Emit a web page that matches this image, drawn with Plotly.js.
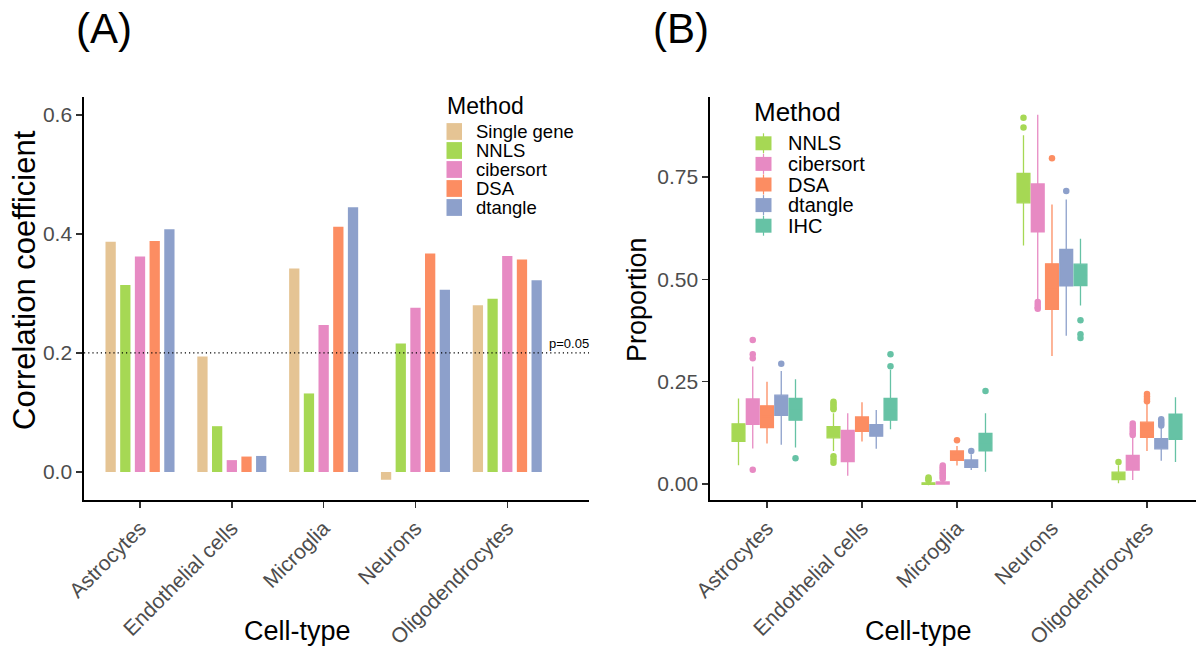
<!DOCTYPE html>
<html><head><meta charset="utf-8">
<script src="https://cdn.plot.ly/plotly-3.0.1.min.js"></script>
<style>html,body{margin:0;padding:0;background:#fff}#chart{width:1196px;height:649px}</style>
</head><body><div id="chart"></div>
<script>
// ---------- shared ----------
const cellTypes = ['Astrocytes', 'Endothelial cells', 'Microglia', 'Neurons', 'Oligodendrocytes'];

// ---------- panel A: correlation coefficients ----------
const methodsA = ['Single gene', 'NNLS', 'cibersort', 'DSA', 'dtangle'];
const colorsA = ['#E5C494', '#A6D854', '#E78AC3', '#FC8D62', '#8DA0CB'];
const corSingleGene = [0.387, 0.194, 0.342, -0.013, 0.280];
const corNNLS       = [0.314, 0.077, 0.132, 0.216, 0.291];
const corCibersort  = [0.362, 0.020, 0.247, 0.276, 0.363];
const corDSA        = [0.388, 0.026, 0.412, 0.367, 0.357];
const corDtangle    = [0.408, 0.027, 0.445, 0.306, 0.322];
const pThreshold = 0.2;
const yTicksA = [0, 0.2, 0.4, 0.6];
const yTickTextA = ['0.0', '0.2', '0.4', '0.6'];

// ---------- panel B: proportions (box statistics) ----------
const methodsB = ['NNLS', 'cibersort', 'DSA', 'dtangle', 'IHC'];
const colorsB = ['#A6D854', '#E78AC3', '#FC8D62', '#8DA0CB', '#66C2A5'];

const nnlsLower  = [0.046, 0.081, -0.003, 0.583, 0.002];
const nnlsQ1     = [0.104, 0.113, -0.001, 0.687, 0.011];
const nnlsMedian = [0.125, 0.127, 0.001, 0.722, 0.019];
const nnlsQ3     = [0.147, 0.140, 0.003, 0.759, 0.029];
const nnlsUpper  = [0.209, 0.173, 0.005, 0.852, 0.046];
const nnlsOut    = [[], [0.201, 0.196, 0.191, 0.186, 0.183, 0.068, 0.060, 0.052], [0.009, 0.012, 0.016], [0.895, 0.871], [0.054]];

const cibLower  = [0.087, 0.020, 0.000, 0.450, 0.010];
const cibQ1     = [0.146, 0.055, 0.000, 0.616, 0.034];
const cibMedian = [0.175, 0.095, 0.002, 0.670, 0.050];
const cibQ3     = [0.208, 0.131, 0.005, 0.733, 0.070];
const cibUpper  = [0.287, 0.173, 0.009, 0.902, 0.116];
const cibOut    = [[0.352, 0.317, 0.307, 0.035], [], [0.013, 0.017, 0.021, 0.025, 0.029, 0.033, 0.037, 0.041, 0.045], [0.445, 0.438, 0.432, 0.428], [0.148, 0.142, 0.136, 0.130, 0.124, 0.120]];

const dsaLower  = [0.099, 0.104, 0.045, 0.313, 0.081];
const dsaQ1     = [0.138, 0.129, 0.058, 0.427, 0.114];
const dsaMedian = [0.165, 0.147, 0.070, 0.480, 0.133];
const dsaQ3     = [0.191, 0.164, 0.081, 0.538, 0.151];
const dsaUpper  = [0.250, 0.200, 0.093, 0.683, 0.197];
const dsaOut    = [[], [], [0.107], [0.796], [0.220, 0.214, 0.208, 0.202]];

const dtLower  = [0.096, 0.086, 0.034, 0.362, 0.057];
const dtQ1     = [0.168, 0.117, 0.041, 0.484, 0.086];
const dtMedian = [0.190, 0.130, 0.050, 0.530, 0.098];
const dtQ3     = [0.217, 0.145, 0.059, 0.573, 0.111];
const dtUpper  = [0.276, 0.181, 0.073, 0.695, 0.139];
const dtOut    = [[0.294], [], [0.081], [0.716], [0.158, 0.153, 0.148, 0.143]];

const ihcLower  = [0.089, 0.134, 0.030, 0.436, 0.054];
const ihcQ1     = [0.156, 0.156, 0.081, 0.485, 0.109];
const ihcMedian = [0.180, 0.180, 0.100, 0.510, 0.140];
const ihcQ3     = [0.209, 0.209, 0.124, 0.537, 0.171];
const ihcUpper  = [0.256, 0.279, 0.173, 0.599, 0.212];
const ihcOut    = [[0.063], [0.317, 0.288], [0.227], [0.400, 0.366, 0.357], []];

const yTicksB = [0, 0.25, 0.5, 0.75];
const yTickTextB = ['0.00', '0.25', '0.50', '0.75'];

// ---------- build ----------
const W = 1196, H = 649;
const px = v => v / W;
const py = v => 1 - v / H;
const FONT = 'Liberation Sans, Arial, sans-serif';
const TICKGREY = '#4D4D4D';

const corValues = [corSingleGene, corNNLS, corCibersort, corDSA, corDtangle];
const boxStats = [
  [nnlsLower, nnlsQ1, nnlsMedian, nnlsQ3, nnlsUpper, nnlsOut],
  [cibLower, cibQ1, cibMedian, cibQ3, cibUpper, cibOut],
  [dsaLower, dsaQ1, dsaMedian, dsaQ3, dsaUpper, dsaOut],
  [dtLower, dtQ1, dtMedian, dtQ3, dtUpper, dtOut],
  [ihcLower, ihcQ1, ihcMedian, ihcQ3, ihcUpper, ihcOut]
];

const traces = [];
methodsA.forEach((m, k) => {
  traces.push({
    type: 'bar', name: m, x: cellTypes, y: corValues[k],
    marker: { color: colorsA[k], line: { width: 0 } },
    xaxis: 'x', yaxis: 'y', showlegend: false
  });
});

const dodge = 0.15;
methodsB.forEach((m, k) => {
  const s = boxStats[k];
  const xs = cellTypes.map((c, i) => i + (k - 2) * dodge);
  traces.push({
    type: 'box', name: m, x: xs,
    lowerfence: s[0], q1: s[1], median: s[2], q3: s[3], upperfence: s[4],
    width: 0.135, whiskerwidth: 0, boxpoints: false,
    fillcolor: colorsB[k], line: { color: colorsB[k], width: 1.3 },
    xaxis: 'x2', yaxis: 'y2', showlegend: false
  });
  const ox = [], oy = [];
  s[5].forEach((arr, i) => arr.forEach(v => { ox.push(xs[i]); oy.push(v); }));
  traces.push({
    type: 'scatter', mode: 'markers', name: m + ' outliers', x: ox, y: oy,
    marker: { color: colorsB[k], size: 6.5, line: { width: 0 } },
    xaxis: 'x2', yaxis: 'y2', showlegend: false, hoverinfo: 'y'
  });
});

const yDom = [py(500), py(97)];
const axisCommon = {
  showline: true, linecolor: '#000', linewidth: 1.7, mirror: false,
  showgrid: false, zeroline: false, ticks: 'outside', ticklen: 6,
  tickwidth: 1.4, tickcolor: '#333',
  tickfont: { family: FONT, size: 21, color: TICKGREY }
};

const shapes = [
  { type: 'line', xref: 'x domain', yref: 'y', x0: 0, x1: 1, y0: pThreshold, y1: pThreshold,
    line: { color: '#000', width: 1.2, dash: '1.2px,3px' } }
];
const annotations = [
  { text: '(A)', xref: 'paper', yref: 'paper', x: px(74), y: py(28), xanchor: 'left', yanchor: 'middle',
    showarrow: false, font: { family: FONT, size: 42, color: '#000' } },
  { text: '(B)', xref: 'paper', yref: 'paper', x: px(651), y: py(28), xanchor: 'left', yanchor: 'middle',
    showarrow: false, font: { family: FONT, size: 42, color: '#000' } },
  { text: 'p=0.05', xref: 'x', yref: 'y', x: 4.67, y: pThreshold, yshift: 9, xanchor: 'center', yanchor: 'middle',
    showarrow: false, font: { family: FONT, size: 13, color: '#000' } },
  { text: 'Correlation coefficient', xref: 'paper', yref: 'paper', x: px(25), y: py(280), textangle: -90,
    xanchor: 'center', yanchor: 'middle', showarrow: false, font: { family: FONT, size: 31, color: '#000' } },
  { text: 'Proportion', xref: 'paper', yref: 'paper', x: px(637), y: py(300), textangle: -90,
    xanchor: 'center', yanchor: 'middle', showarrow: false, font: { family: FONT, size: 27, color: '#000' } },
  { text: 'Cell-type', xref: 'paper', yref: 'paper', x: px(297), y: py(631),
    xanchor: 'center', yanchor: 'middle', showarrow: false, font: { family: FONT, size: 27, color: '#000' } },
  { text: 'Cell-type', xref: 'paper', yref: 'paper', x: px(918), y: py(631),
    xanchor: 'center', yanchor: 'middle', showarrow: false, font: { family: FONT, size: 27, color: '#000' } },
  // legend titles
  { text: 'Method', xref: 'paper', yref: 'paper', x: px(445), y: py(106), xanchor: 'left', yanchor: 'middle',
    showarrow: false, font: { family: FONT, size: 23, color: '#000' } },
  { text: 'Method', xref: 'paper', yref: 'paper', x: px(752), y: py(112), xanchor: 'left', yanchor: 'middle',
    showarrow: false, font: { family: FONT, size: 26, color: '#000' } }
];

// legend A (filled keys)
methodsA.forEach((m, k) => {
  const cy = 131.5 + k * 19.0;
  shapes.push({ type: 'rect', xref: 'paper', yref: 'paper', x0: px(446.5), x1: px(462), y0: py(cy + 8.4), y1: py(cy - 8.4),
    fillcolor: colorsA[k], line: { width: 0 } });
  annotations.push({ text: m, xref: 'paper', yref: 'paper', x: px(474), y: py(cy), xanchor: 'left', yanchor: 'middle',
    showarrow: false, font: { family: FONT, size: 18.5, color: '#000' } });
});
// legend B (box keys)
methodsB.forEach((m, k) => {
  const cy = 143.3 + k * 20.6;
  const cx = 763.5;
  shapes.push({ type: 'line', xref: 'paper', yref: 'paper', x0: px(cx), x1: px(cx), y0: py(cy + 10), y1: py(cy - 10),
    line: { color: colorsB[k], width: 1.2 } });
  shapes.push({ type: 'rect', xref: 'paper', yref: 'paper', x0: px(755.5), x1: px(771.5), y0: py(cy + 7), y1: py(cy - 7),
    fillcolor: colorsB[k], line: { width: 0 } });
  annotations.push({ text: m, xref: 'paper', yref: 'paper', x: px(786), y: py(cy), xanchor: 'left', yanchor: 'middle',
    showarrow: false, font: { family: FONT, size: 20, color: '#000' } });
});

const layout = {
  width: W, height: H,
  margin: { l: 0, r: 0, t: 0, b: 0, pad: 0 },
  paper_bgcolor: '#fff', plot_bgcolor: '#fff',
  font: { family: FONT },
  showlegend: false,
  barmode: 'group', bargap: 0.2, bargroupgap: 0.3,
  boxmode: 'overlay',
  xaxis: Object.assign({}, axisCommon, {
    domain: [px(84), px(589)], anchor: 'y', type: 'category',
    range: [-0.61, 4.89], tickangle: -45
  }),
  yaxis: Object.assign({}, axisCommon, {
    domain: yDom, anchor: 'x', range: [-0.047, 0.630],
    tickvals: yTicksA, ticktext: yTickTextA
  }),
  xaxis2: Object.assign({}, axisCommon, {
    domain: [px(710), 1], anchor: 'y2', type: 'linear',
    range: [-0.6, 4.516], tickangle: -45,
    tickvals: cellTypes.map((c, i) => i), ticktext: cellTypes
  }),
  yaxis2: Object.assign({}, axisCommon, {
    domain: yDom, anchor: 'x2', range: [-0.039, 0.9455],
    tickvals: yTicksB, ticktext: yTickTextB
  }),
  shapes: shapes,
  annotations: annotations
};

Plotly.newPlot('chart', traces, layout, { displayModeBar: false, staticPlot: true });
</script>
</body></html>
